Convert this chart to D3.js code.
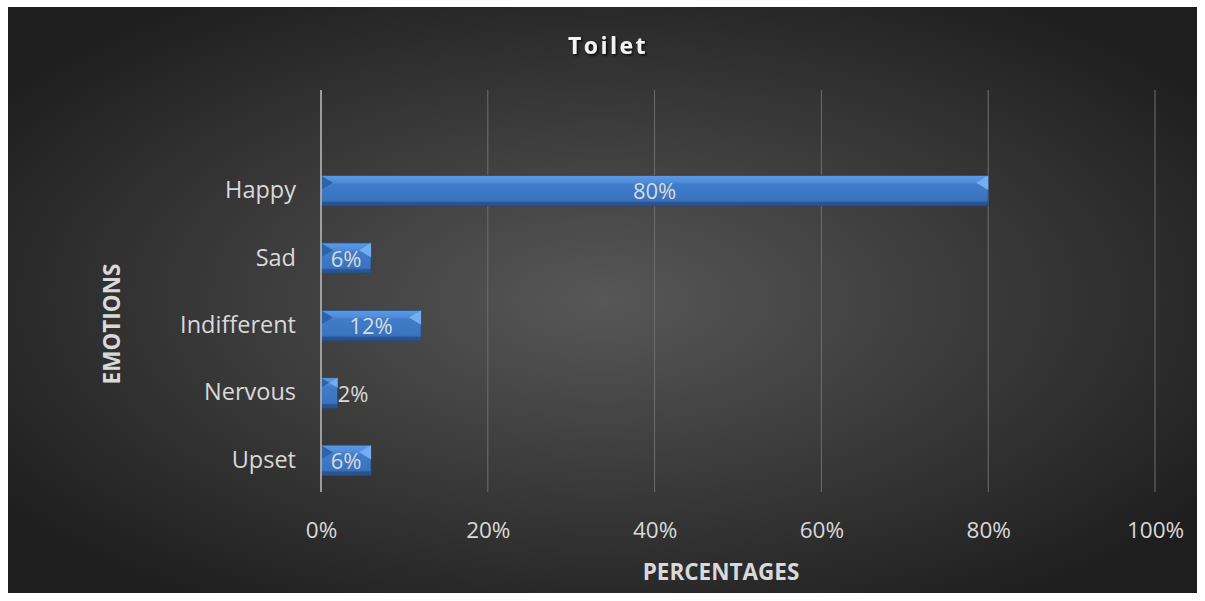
<!DOCTYPE html>
<html>
<head>
<meta charset="utf-8">
<script src="https://cdn.jsdelivr.net/npm/d3@7"></script>
<style>
  body { margin: 0; background: #fff; }
  svg text { font-family: "Open Sans", Lato, sans-serif; }
</style>
</head>
<body>
<div id="chart"></div>
<script>
// data
var categories = ["Happy", "Sad", "Indifferent", "Nervous", "Upset"];
var values = [0.80, 0.06, 0.12, 0.02, 0.06];
var xTicks = [0, 0.2, 0.4, 0.6, 0.8, 1.0];

var width = 1205,
    height = 601;

var svg = d3.select("#chart").append("svg")
    .attr("width", width)
    .attr("height", height);

var defs = svg.append("defs");

var bg = defs.append("radialGradient")
    .attr("id", "bg")
    .attr("cx", "50%").attr("cy", "50%").attr("r", "62%")
    .attr("gradientUnits", "objectBoundingBox");
bg.append("stop").attr("offset", "0%").attr("stop-color", "#575757");
bg.append("stop").attr("offset", "100%").attr("stop-color", "#1e1e1e");

var barGrad = defs.append("linearGradient")
    .attr("id", "barGrad")
    .attr("x1", 0).attr("y1", 0).attr("x2", 0).attr("y2", 1);
barGrad.append("stop").attr("offset", "0%").attr("stop-color", "#5d9be6");
barGrad.append("stop").attr("offset", "22%").attr("stop-color", "#4f8bd9");
barGrad.append("stop").attr("offset", "30%").attr("stop-color", "#3f7cc9");
barGrad.append("stop").attr("offset", "80%").attr("stop-color", "#3a74c0");
barGrad.append("stop").attr("offset", "100%").attr("stop-color", "#2a5793");

var shadow = defs.append("filter").attr("id", "tshadow");
shadow.append("feDropShadow")
    .attr("dx", 1.5).attr("dy", 1.5).attr("stdDeviation", 1)
    .attr("flood-color", "#000").attr("flood-opacity", 0.8);

// chart background
svg.append("rect")
    .attr("x", 8).attr("y", 7)
    .attr("width", 1189).attr("height", 586)
    .attr("fill", "url(#bg)");

var x = d3.scaleLinear().domain([0, 1]).range([321, 1155]);
var y = d3.scaleBand()
    .domain(categories)
    .range([157, 494])
    .paddingInner(0.55)
    .paddingOuter(0.275);

// gridlines
svg.append("g")
    .selectAll("line")
    .data(xTicks.slice(1))
    .enter().append("line")
    .attr("x1", function(d){ return x(d); })
    .attr("x2", function(d){ return x(d); })
    .attr("y1", 90).attr("y2", 492)
    .attr("stroke", "#6e6e6e")
    .attr("stroke-width", 1);

// x tick labels
var xAxis = d3.axisBottom(x)
    .tickValues(xTicks)
    .tickFormat(d3.format(".0%"))
    .tickSize(0)
    .tickPadding(0);

var gx = svg.append("g")
    .attr("transform", "translate(0,538)")
    .call(xAxis);
gx.select(".domain").remove();
gx.selectAll("text")
    .attr("dy", 0)
    .attr("font-size", 22.5)
    .attr("fill", "#d9d9d9");

// y category labels
var yAxis = d3.axisLeft(y).tickSize(0).tickPadding(0);
var gy = svg.append("g")
    .attr("transform", "translate(296,0)")
    .call(yAxis);
gy.select(".domain").remove();
gy.selectAll("text")
    .attr("font-size", 23.5)
    .attr("fill", "#d9d9d9");

// bars
var bars = svg.append("g")
    .selectAll("g")
    .data(categories)
    .enter().append("g");

bars.append("rect")
    .attr("x", x(0))
    .attr("y", function(d){ return y(d); })
    .attr("width", function(d, i){ return x(values[i]) - x(0); })
    .attr("height", y.bandwidth())
    .attr("fill", "url(#barGrad)")
    .attr("stroke", "#234a7e")
    .attr("stroke-width", 0.8);

// bevel highlights at ends
bars.append("path")
    .attr("d", function(d, i){
        var x0 = x(0), x1 = x(values[i]), y0 = y(d);
        var b = Math.min(12, (x1 - x0) / 2);
        return "M" + x0 + "," + y0 + "L" + (x0 + b) + "," + (y0 + b * 0.6) +
               "L" + x0 + "," + (y0 + b * 1.2) + "Z";
    })
    .attr("fill", "#2e63a8");
bars.append("path")
    .attr("d", function(d, i){
        var x0 = x(0), x1 = x(values[i]), y0 = y(d);
        var b = Math.min(12, (x1 - x0) / 2);
        return "M" + x1 + "," + y0 + "L" + (x1 - b) + "," + (y0 + b * 0.6) +
               "L" + x1 + "," + (y0 + b * 1.2) + "Z";
    })
    .attr("fill", "#73aef0");
bars.append("rect")
    .attr("x", x(0))
    .attr("y", function(d){ return y(d) + y.bandwidth() - 4; })
    .attr("width", function(d, i){ return x(values[i]) - x(0); })
    .attr("height", 4)
    .attr("fill", "#264f88")
    .attr("opacity", 0.7);

// data labels
var fmt = d3.format(".0%");
bars.append("text")
    .attr("font-size", 22)
    .attr("fill", "#d9d9d9")
    .attr("dy", "0.35em")
    .attr("y", function(d){ return y(d) + y.bandwidth() / 2 + 1; })
    .attr("x", function(d, i){
        var w = x(values[i]) - x(0);
        return w < 40 ? x(values[i]) : x(0) + w / 2;
    })
    .attr("text-anchor", function(d, i){
        return (x(values[i]) - x(0)) < 40 ? "start" : "middle";
    })
    .text(function(d, i){ return fmt(values[i]); });

// vertical axis line
svg.append("line")
    .attr("x1", x(0)).attr("x2", x(0))
    .attr("y1", 90).attr("y2", 492)
    .attr("stroke", "#bfbfbf")
    .attr("stroke-width", 1.5);

// titles
svg.append("text")
    .attr("x", 608).attr("y", 54)
    .attr("text-anchor", "middle")
    .attr("font-size", 23)
    .attr("font-weight", "bold")
    .attr("letter-spacing", 2.5)
    .attr("fill", "#f2f2f2")
    .attr("filter", "url(#tshadow)")
    .text("Toilet");

svg.append("text")
    .attr("x", 721).attr("y", 580)
    .attr("text-anchor", "middle")
    .attr("font-size", 22.5)
    .attr("font-weight", "bold")
    .attr("fill", "#d9d9d9")
    .text("PERCENTAGES");

svg.append("text")
    .attr("transform", "translate(120,324) rotate(-90)")
    .attr("text-anchor", "middle")
    .attr("font-size", 22.5)
    .attr("font-weight", "bold")
    .attr("fill", "#d9d9d9")
    .text("EMOTIONS");
</script>
</body>
</html>
